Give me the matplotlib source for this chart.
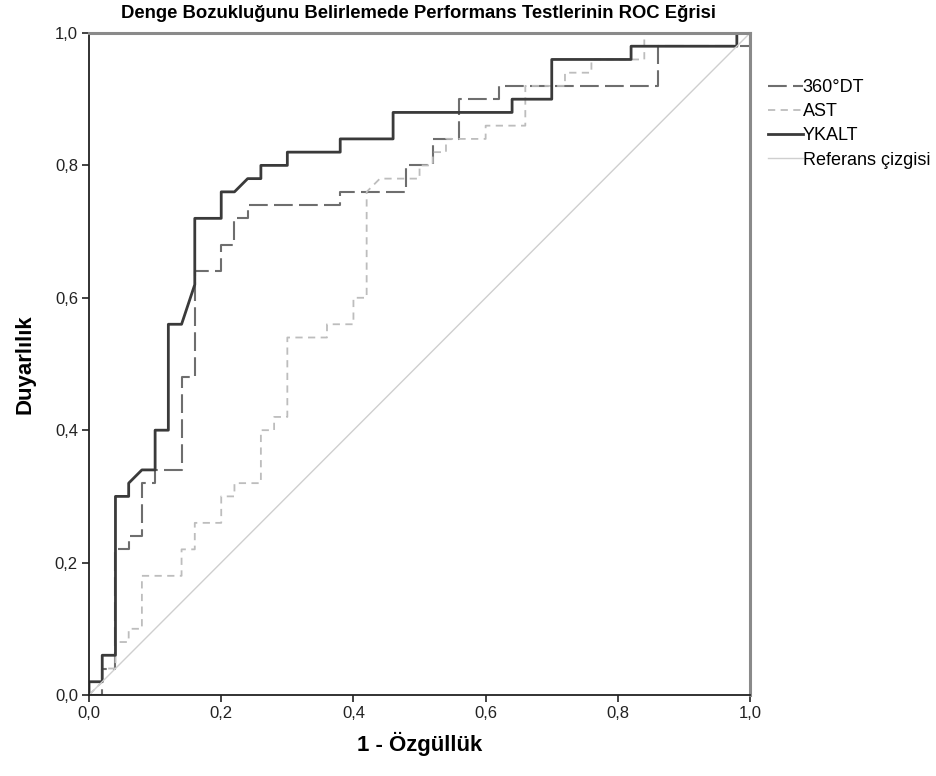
import numpy as np
import matplotlib
matplotlib.use("Agg")
import matplotlib.pyplot as plt
from matplotlib.ticker import FuncFormatter

# ROC curve points (1 - specificity, sensitivity)
dt_x = [0, 0.02, 0.02, 0.04, 0.04, 0.06, 0.06, 0.08, 0.08, 0.10, 0.10, 0.14, 0.14, 0.16, 0.16,
        0.20, 0.20, 0.22, 0.22, 0.24, 0.24, 0.38, 0.38, 0.48, 0.48, 0.52, 0.52, 0.56, 0.56,
        0.62, 0.62, 0.86, 0.86, 1.0, 1.0]
dt_y = [0, 0, 0.04, 0.04, 0.22, 0.22, 0.24, 0.24, 0.32, 0.32, 0.34, 0.34, 0.48, 0.48, 0.64,
        0.64, 0.68, 0.68, 0.72, 0.72, 0.74, 0.74, 0.76, 0.76, 0.80, 0.80, 0.84, 0.84, 0.90,
        0.90, 0.92, 0.92, 0.98, 0.98, 1.0]

ast_x = [0, 0.02, 0.02, 0.04, 0.04, 0.06, 0.06, 0.08, 0.08, 0.14, 0.14, 0.16, 0.16, 0.20, 0.20,
         0.22, 0.22, 0.26, 0.26, 0.28, 0.28, 0.30, 0.30, 0.36, 0.36, 0.40, 0.40, 0.42, 0.42,
         0.44, 0.50, 0.50, 0.52, 0.52, 0.54, 0.54, 0.60, 0.60, 0.66, 0.66, 0.72, 0.72, 0.76,
         0.76, 0.84, 0.84, 1.0]
ast_y = [0, 0.02, 0.04, 0.04, 0.08, 0.08, 0.10, 0.10, 0.18, 0.18, 0.22, 0.22, 0.26, 0.26, 0.30,
         0.30, 0.32, 0.32, 0.40, 0.40, 0.42, 0.42, 0.54, 0.54, 0.56, 0.56, 0.60, 0.60, 0.76,
         0.78, 0.78, 0.80, 0.80, 0.82, 0.82, 0.84, 0.84, 0.86, 0.86, 0.92, 0.92, 0.94, 0.94,
         0.96, 0.96, 1.0, 1.0]

ykalt_x = [0, 0, 0.02, 0.02, 0.04, 0.04, 0.06, 0.06, 0.08, 0.10, 0.10, 0.12, 0.12, 0.14, 0.16,
           0.16, 0.20, 0.20, 0.22, 0.24, 0.26, 0.26, 0.30, 0.30, 0.38, 0.38, 0.46, 0.46, 0.64,
           0.64, 0.70, 0.70, 0.82, 0.82, 0.98, 0.98, 1.0]
ykalt_y = [0, 0.02, 0.02, 0.06, 0.06, 0.30, 0.30, 0.32, 0.34, 0.34, 0.40, 0.40, 0.56, 0.56, 0.62,
           0.72, 0.72, 0.76, 0.76, 0.78, 0.78, 0.80, 0.80, 0.82, 0.82, 0.84, 0.84, 0.88, 0.88,
           0.90, 0.90, 0.96, 0.96, 0.98, 0.98, 1.0, 1.0]

ref_x = [0, 1]
ref_y = [0, 1]

labels = ["360°DT", "AST", "YKALT", "Referans çizgisi"]
ticks = [0, 0.2, 0.4, 0.6, 0.8, 1.0]

plt.rcParams["font.family"] = ["Liberation Sans", "DejaVu Sans"]

fig = plt.figure(figsize=(9.37, 7.76), dpi=100)
ax = fig.add_axes([0.095, 0.1044, 0.7055, 0.8531])

ax.plot(dt_x, dt_y, color="#6e6e6e", lw=1.5, dashes=(9, 3), label=labels[0])
ax.plot(ast_x, ast_y, color="#bdbdbd", lw=1.3, dashes=(4, 3), label=labels[1])
ax.plot(ykalt_x, ykalt_y, color="#3a3a3a", lw=2.0, label=labels[2])
ax.plot(ref_x, ref_y, color="#cfcfcf", lw=1.0, label=labels[3])

ax.set_xlim(0, 1)
ax.set_ylim(0, 1)
ax.set_xticks(ticks)
ax.set_yticks(ticks)
# comma as decimal separator
fmt = FuncFormatter(lambda v, p: ("%.1f" % v).replace(".", ","))
ax.xaxis.set_major_formatter(fmt)
ax.yaxis.set_major_formatter(fmt)
ax.tick_params(direction="out", length=5, width=1.2, labelsize=12, colors="#222222", pad=3)

for s in ["left", "bottom"]:
    ax.spines[s].set_color("#222222")
    ax.spines[s].set_linewidth(1.3)
for s in ["top", "right"]:
    ax.spines[s].set_color("#8a8a8a")
    ax.spines[s].set_linewidth(2.2)

ax.set_xlabel("1 - Özgüllük", fontsize=16, fontweight="bold", labelpad=8)
ax.set_ylabel("Duyarlılık", fontsize=16, fontweight="bold", labelpad=14)
# title placed in figure coords, sits just above the frame
fig.text(0.447, 0.983, "Denge Bozukluğunu Belirlemede Performans Testlerinin ROC Eğrisi",
         fontsize=13.3, fontweight="bold", ha="center", va="center")

leg = ax.legend(loc="upper left", bbox_to_anchor=(1.003, 0.955), frameon=False,
                handlelength=1.9, handletextpad=0.0, labelspacing=0.4,
                prop={"size": 13})

fig.savefig("out.png", dpi=100)
